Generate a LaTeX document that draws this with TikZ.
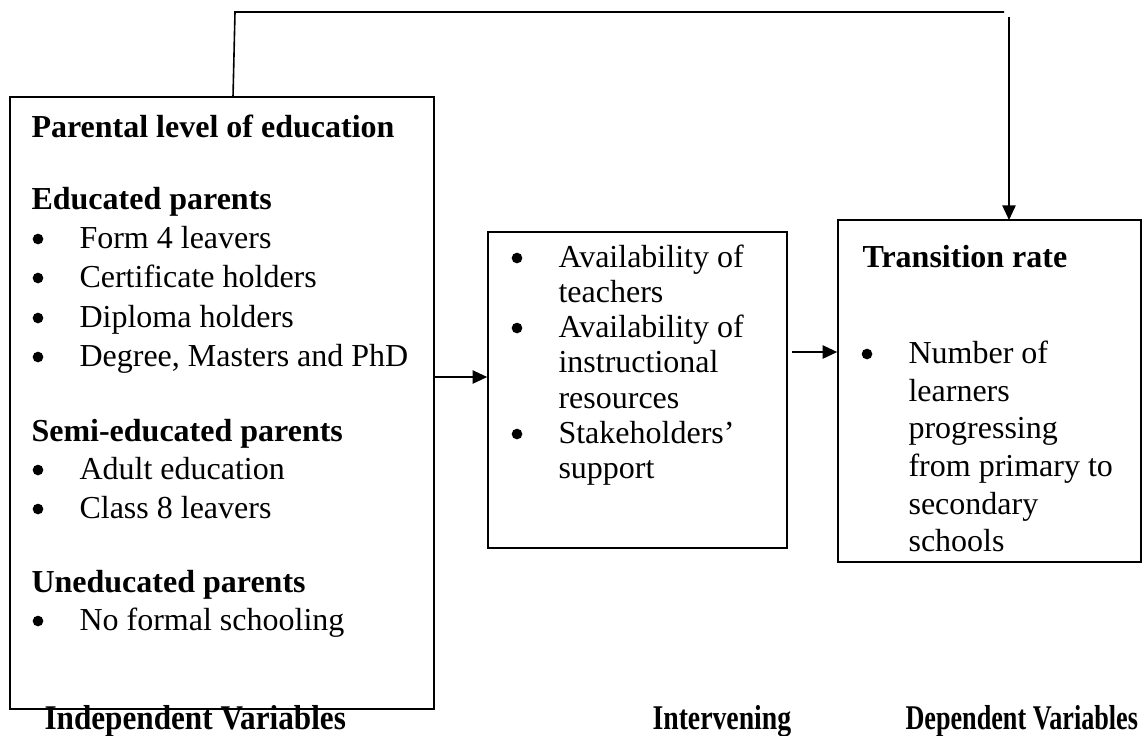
\documentclass[tikz,border=0pt]{standalone}
\usepackage{fontspec}
\setmainfont{Liberation Serif}
\usetikzlibrary{arrows.meta,fit}
\begin{document}
\begin{tikzpicture}[x=0.375pt,y=-0.375pt,
  box/.style={draw,line width=0.6pt,inner sep=0pt},
  conn/.style={line width=0.6pt},
  arr/.style={line width=0.6pt,-{Triangle[length=5.5pt,width=5pt]}},
  txt/.style={anchor=base west,inner sep=0pt,font=\fontsize{12pt}{14pt}\selectfont},
  hd/.style={txt,font=\fontsize{12pt}{14pt}\selectfont\bfseries},
  dot/.style={circle,fill,inner sep=0pt,minimum size=4pt},
  lab/.style={anchor=base west,inner sep=0pt,font=\fontsize{13pt}{14pt}\selectfont\bfseries}]
\useasboundingbox (0,0) rectangle (1146,735);
% boxes
\node[box,fit={(10,97)(434,709)}] (L) {};
\node[box,fit={(488,232)(787,548)}] (M) {};
\node[box,fit={(838,220)(1141,562)}] (R) {};
% left box text
\node[hd] (l1) at (31,137) {Parental level of education};
\node[hd] (l2) at (31,209) {Educated parents};
\node[dot] (b1) at (38,239) {}; \node[txt] (l3) at (79,248) {Form 4 leavers};
\node[dot] (b2) at (38,278) {}; \node[txt] (l4) at (79,287) {Certificate holders};
\node[dot] (b3) at (38,318) {}; \node[txt] (l5) at (79,327) {Diploma holders};
\node[dot] (b4) at (38,357) {}; \node[txt] (l6) at (79,366) {Degree, Masters and PhD};
\node[hd] (l7) at (31,441) {Semi-educated parents};
\node[dot] (b5) at (38,470) {}; \node[txt] (l8) at (79,479) {Adult education};
\node[dot] (b6) at (38,509) {}; \node[txt] (l9) at (79,518) {Class 8 leavers};
\node[hd] (l10) at (31,592) {Uneducated parents};
\node[dot] (b7) at (38,621) {}; \node[txt] (l11) at (79,630) {No formal schooling};
% middle box text
\node[dot] (mb1) at (517,258) {}; \node[txt] (m1) at (558,267) {Availability of};
\node[txt] (m2) at (558,302) {teachers};
\node[dot] (mb2) at (517,328) {}; \node[txt] (m3) at (558,337) {Availability of};
\node[txt] (m4) at (558,372) {instructional};
\node[txt] (m5) at (558,408) {resources};
\node[dot] (mb3) at (517,434) {}; \node[txt] (m6) at (558,443) {Stakeholders’};
\node[txt] (m7) at (558,478) {support};
% right box text
\node[hd] (r1) at (862,267) {Transition rate};
\node[dot] (rb1) at (867,354) {}; \node[txt] (r2) at (908,363) {Number of};
\node[txt] (r3) at (908,401) {learners};
\node[txt] (r4) at (908,438) {progressing};
\node[txt] (r5) at (908,476) {from primary to};
\node[txt] (r6) at (908,514) {secondary};
\node[txt] (r7) at (908,551) {schools};
% bottom labels
\node[lab] (iv) at (44,729) {\scalebox{0.9}[1]{Independent Variables}};
\node[lab] (inv) at (652,729) {\scalebox{0.8}[1]{Intervening}};
\node[lab] (dv) at (905,729) {\scalebox{0.755}[1]{Dependent Variables}};
% connectors
\coordinate (a0) at (233,97);
\coordinate (a1) at (235,12);
\coordinate (a2) at (1004,12);
\coordinate (a3) at (1009,17);
\coordinate (a4) at (1009,220);
\coordinate (ly) at (0,377);
\coordinate (ry) at (0,352);
\draw[conn] (a0) -- (a1) -- (a2);
\draw[arr] (a3) -- (a4);
\draw[arr] (L.east |- ly) -- (M.west |- ly);
\draw[arr] ([xshift=1.5pt]M.east |- ry) -- (R.west |- ry);
\end{tikzpicture}
\end{document}
